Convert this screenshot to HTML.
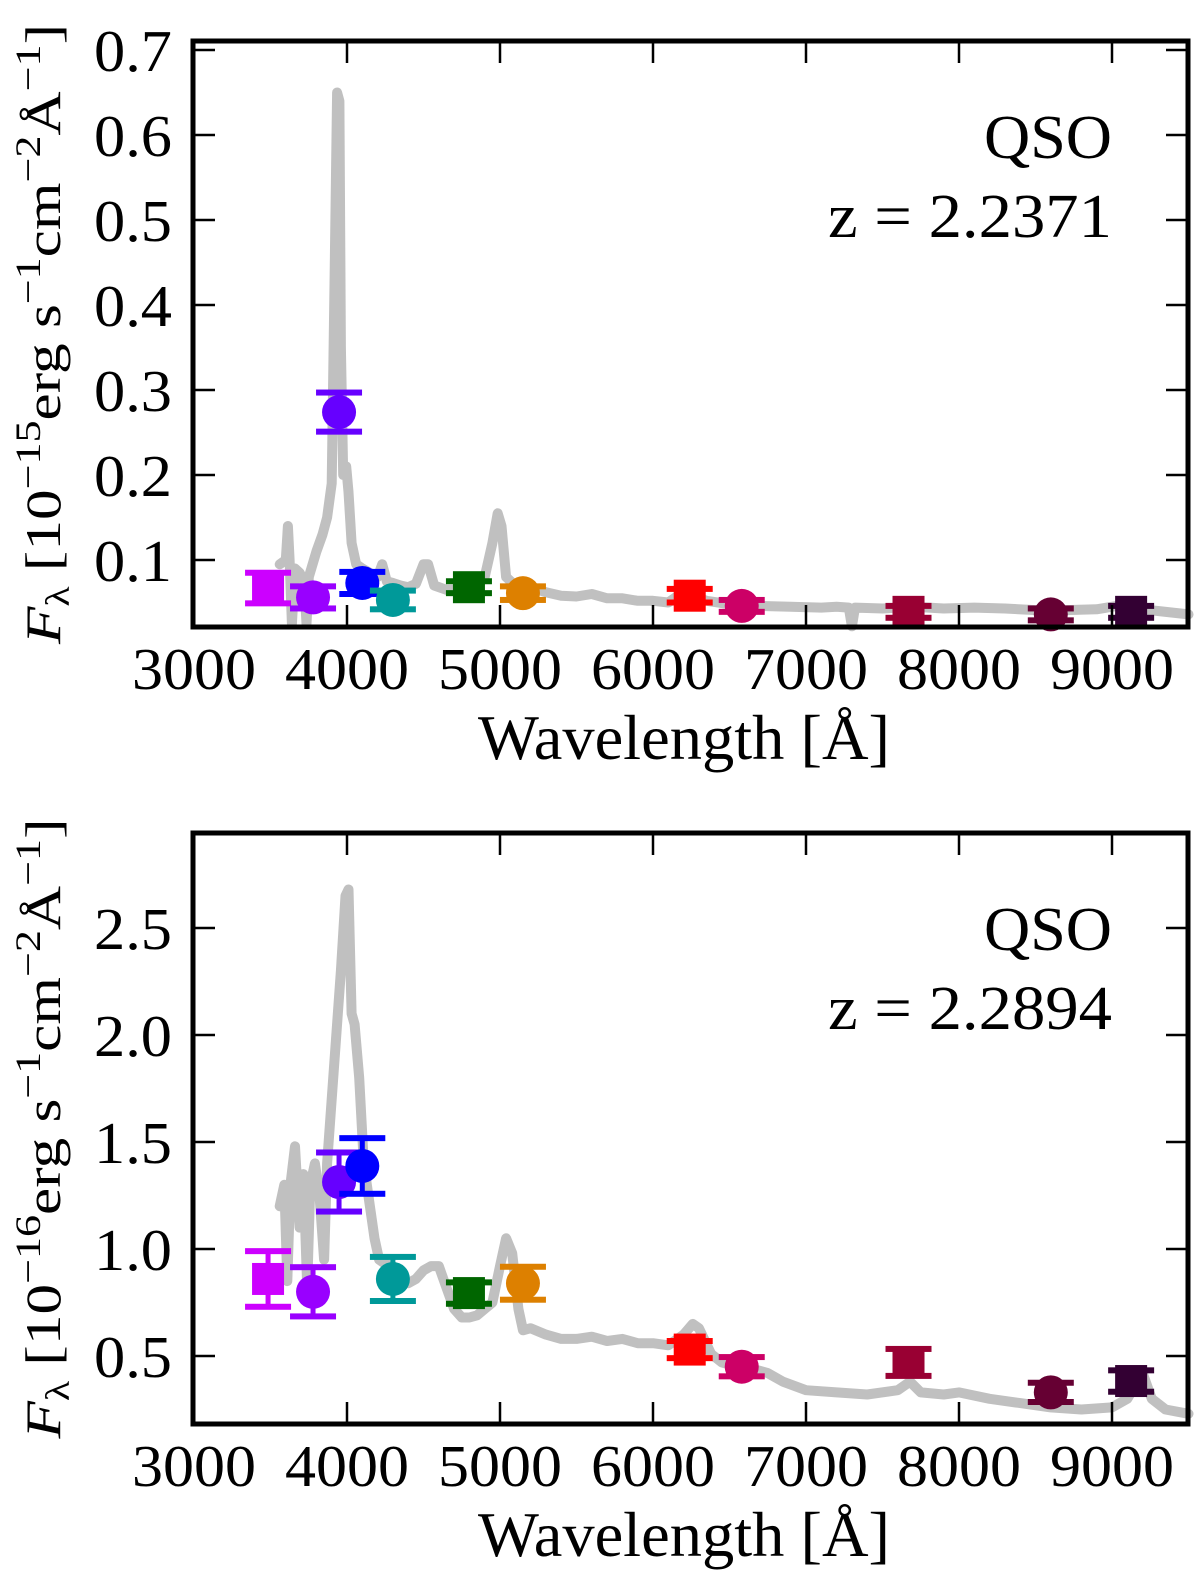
<!DOCTYPE html>
<html><head><meta charset="utf-8"><style>
html,body{margin:0;padding:0;background:#fff;}
svg{display:block;font-family:"Liberation Serif",serif;}
</style></head><body>
<svg id="fig" width="1200" height="1583" viewBox="0 0 1200 1583" xmlns="http://www.w3.org/2000/svg"></svg>
<script>
// ---- shared
const bandColors = ["#cc00ff","#9900ff","#6600ff","#0000ff","#009999","#006600","#dd8000","#ff0000","#cc0066","#990033","#660033","#330033"];
const bandShapes = ["s","c","c","c","c","s","c","s","c","s","c","s"];
const bandWave = [3484,3778,3948,4100,4300,4797,5150,6240,6580,7670,8600,9125];
const xTicks = [3000,4000,5000,6000,7000,8000,9000];

// ---- top panel data (1e-15)
const topSpecW = [3560,3600,3614,3625,3640,3660,3690,3720,3735,3750,3800,3840,3870,3900,3920,3935,3950,3960,3975,3995,4010,4030,4060,4100,4150,4200,4230,4260,4300,4350,4400,4450,4500,4530,4570,4650,4750,4850,4900,4950,4985,5010,5040,5100,5200,5300,5400,5500,5600,5700,5800,5900,6000,6100,6180,6250,6350,6500,6700,6900,7100,7200,7280,7300,7320,7500,7700,7900,8100,8300,8500,8700,8900,9100,9150,9200,9300,9500];
const topSpecF = [0.095,0.10,0.14,0.10,0.025,0.09,0.085,0.075,0.025,0.08,0.11,0.13,0.15,0.19,0.45,0.65,0.64,0.35,0.20,0.21,0.18,0.12,0.095,0.09,0.085,0.08,0.095,0.075,0.073,0.07,0.068,0.072,0.095,0.095,0.07,0.065,0.065,0.07,0.08,0.12,0.155,0.14,0.08,0.07,0.068,0.062,0.058,0.057,0.06,0.055,0.055,0.052,0.052,0.05,0.06,0.058,0.052,0.048,0.046,0.045,0.044,0.045,0.044,0.022,0.044,0.043,0.045,0.043,0.044,0.043,0.041,0.041,0.042,0.048,0.05,0.042,0.04,0.036];
const topFlux = [0.067,0.056,0.274,0.073,0.053,0.068,0.061,0.058,0.046,0.039,0.036,0.039];
const topErr = [0.018,0.013,0.023,0.013,0.011,0.007,0.008,0.008,0.007,0.007,0.007,0.007];
const topYTicks = [0.1,0.2,0.3,0.4,0.5,0.6,0.7];
const topYTickLabels = ["0.1","0.2","0.3","0.4","0.5","0.6","0.7"];

// ---- bottom panel data (1e-16)
const botSpecW = [3560,3590,3610,3630,3660,3690,3715,3740,3760,3790,3820,3850,3870,3900,3930,3960,3990,4010,4030,4050,4080,4110,4150,4180,4210,4250,4300,4350,4400,4450,4500,4550,4600,4650,4700,4750,4800,4850,4900,4950,5000,5040,5080,5120,5150,5200,5300,5400,5500,5600,5700,5800,5900,6000,6100,6200,6260,6300,6380,6450,6550,6650,6750,6850,7000,7200,7400,7600,7680,7750,7900,8000,8200,8400,8600,8800,9000,9100,9200,9260,9350,9500];
const botSpecF = [1.2,1.3,0.85,1.3,1.48,1.1,1.35,0.82,1.3,1.4,1.25,0.95,1.4,1.7,2.0,2.3,2.65,2.68,2.1,2.05,1.8,1.4,1.2,1.05,0.95,0.93,0.92,0.88,0.84,0.86,0.9,0.92,0.92,0.82,0.72,0.68,0.68,0.69,0.72,0.75,0.92,1.05,0.98,0.72,0.62,0.63,0.6,0.58,0.58,0.59,0.57,0.58,0.56,0.56,0.55,0.6,0.65,0.63,0.51,0.47,0.45,0.44,0.42,0.38,0.34,0.33,0.32,0.34,0.38,0.33,0.32,0.33,0.3,0.28,0.26,0.25,0.26,0.3,0.42,0.3,0.25,0.23];
const botFlux = [0.86,0.80,1.313,1.388,0.86,0.794,0.84,0.53,0.45,0.47,0.33,0.383];
const botErr = [0.13,0.115,0.138,0.13,0.103,0.05,0.077,0.04,0.045,0.063,0.045,0.05];
const botYTicks = [0.5,1.0,1.5,2.0,2.5];
const botYTickLabels = ["0.5","1.0","1.5","2.0","2.5"];

const NS="http://www.w3.org/2000/svg";
const svg=document.getElementById('fig');
function mk(tag,attrs,parent){const e=document.createElementNS(NS,tag);for(const k in attrs)e.setAttribute(k,attrs[k]);(parent||svg).appendChild(e);return e;}

function panel(p){
  const L=193,R=1188,T=p.top,B=p.bottom;
  const xs=l=>194+(l-3000)*0.1530;
  const ys=v=>B-(v-p.ymin)/(p.ymax-p.ymin)*(B-T);
  const g=mk('g',{});
  
  
  let d='';
  for(let i=0;i<p.sw.length;i++){d+=(i?'L':'M')+xs(p.sw[i]).toFixed(1)+' '+ys(p.sf[i]).toFixed(1);}
  const sp=mk('path',{d:d,fill:'none',stroke:'#c0c0c0','stroke-width':10,'stroke-linejoin':'round','stroke-linecap':'round'},g);
  
  
  for(let i=0;i<bandWave.length;i++){
    const cx=xs(bandWave[i]),cy=ys(p.flux[i]);
    const y1=ys(p.flux[i]+p.err[i]),y2=ys(p.flux[i]-p.err[i]);
    const pg=mk('g',{fill:bandColors[i],stroke:bandColors[i]},g);
    
    
    mk('line',{x1:cx,x2:cx,y1:y1,y2:y2,'stroke-width':5},pg);
    mk('rect',{x:cx-23,y:y1-3,width:46,height:6,stroke:'none'},pg);
    mk('rect',{x:cx-23,y:y2-3,width:46,height:6,stroke:'none'},pg);
    if(bandShapes[i]==='c') mk('circle',{cx:cx,cy:cy,r:17,stroke:'none'},pg);
    else mk('rect',{x:cx-16,y:cy-16,width:32,height:32,stroke:'none'},pg);
  }
  xTicks.forEach(t=>{
    const x=xs(t);
    mk('line',{x1:x,x2:x,y1:B,y2:B-22,stroke:'#000','stroke-width':2.5},g);
    mk('line',{x1:x,x2:x,y1:T,y2:T+22,stroke:'#000','stroke-width':2.5},g);
    const tx=mk('text',{x:x,y:B+62,'font-size':59,'text-anchor':'middle',textLength:124,lengthAdjust:'spacingAndGlyphs'},g);
    tx.textContent=t;
    
    
  });
  p.yt.forEach((t,i)=>{
    const y=ys(t);
    mk('line',{x1:L,x2:L+22,y1:y,y2:y,stroke:'#000','stroke-width':2.5},g);
    mk('line',{x1:R,x2:R-22,y1:y,y2:y,stroke:'#000','stroke-width':2.5},g);
    const tx=mk('text',{x:172,y:y+21,'font-size':59,'text-anchor':'end',textLength:78,lengthAdjust:'spacingAndGlyphs'},g);
    tx.textContent=p.ytl[i];
    
    
  });
  const fr=mk('rect',{x:L,y:T,width:R-L,height:B-T,fill:'none',stroke:'#000','stroke-width':5},g);
  
  
  const q=mk('text',{x:1112,y:T+117,'font-size':62,'text-anchor':'end',textLength:128,lengthAdjust:'spacingAndGlyphs'},g);
  q.textContent='QSO';
  
  
  const z=mk('text',{x:1112,y:T+196,'font-size':62,'text-anchor':'end',textLength:284,lengthAdjust:'spacingAndGlyphs'},g);
  z.textContent='z = '+p.z;
  
  
  const xl=mk('text',{x:684,y:B+132,'font-size':64,'text-anchor':'middle',textLength:412,lengthAdjust:'spacingAndGlyphs'},g);
  xl.textContent='Wavelength [Å]';
  
  
  const cy=(T+B)/2;
  const yl=mk('text',{x:0,y:0,'font-size':50,'text-anchor':'middle',textLength:620,lengthAdjust:'spacingAndGlyphs',transform:'translate(60,'+cy+') rotate(-90)'},g);
  
  
  yl.innerHTML='<tspan font-style="italic">F</tspan><tspan font-size="34" dy="9">λ</tspan><tspan dy="-9"> [10</tspan><tspan font-size="36" dy="-20">−'+p.exp+'</tspan><tspan dy="20">erg s</tspan><tspan font-size="36" dy="-20">−1</tspan><tspan dy="20">cm</tspan><tspan font-size="36" dy="-20">−2</tspan><tspan dy="20">Å</tspan><tspan font-size="36" dy="-20">−1</tspan><tspan dy="20">]</tspan>';
}
panel({name:'top-panel',top:41,bottom:627,ymin:0.1-67/850,ymax:0.7+9/850,sw:topSpecW,sf:topSpecF,flux:topFlux,err:topErr,yt:topYTicks,ytl:topYTickLabels,z:'2.2371',exp:'15'});
panel({name:'bottom-panel',top:833,bottom:1424,ymin:0.5-68/214,ymax:2.5+95/214,sw:botSpecW,sf:botSpecF,flux:botFlux,err:botErr,yt:botYTicks,ytl:botYTickLabels,z:'2.2894',exp:'16'});
</script>
</body></html>
